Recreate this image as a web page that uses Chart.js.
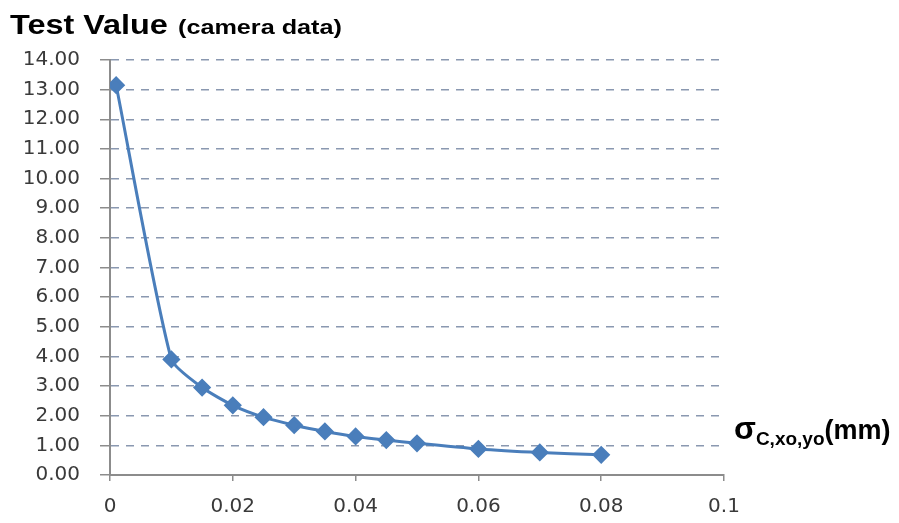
<!DOCTYPE html>
<html>
<head>
<meta charset="utf-8">
<script src="https://cdn.jsdelivr.net/npm/chart.js@4/dist/chart.umd.min.js"></script>
<style>
  html, body { margin: 0; padding: 0; background: #fff; }
  #wrap { position: relative; width: 899px; height: 523px; }
  #title {
    position: absolute; left: 10px; top: 10px; white-space: nowrap;
    font-family: "Liberation Sans", Arial, sans-serif; font-weight: bold; color: #000;
    transform: scaleX(1.2); transform-origin: left top;
  }
  #title .big { font-size: 27px; }
  #title .small { font-size: 21px; margin-left: 4px; }
  #xlabel {
    position: absolute; left: 734px; top: 410px; white-space: nowrap;
    font-family: "Liberation Sans", Arial, sans-serif; font-weight: bold; color: #000;
    font-size: 27px;
  }
  #xlabel .sig { font-size: 32px; }
  #xlabel sub { font-size: 19px; vertical-align: -6px; }
</style>
</head>
<body>
<div id="wrap">
  <canvas id="chart" width="899" height="523"></canvas>
  <div id="title"><span class="big">Test Value</span> <span class="small">(camera data)</span></div>
  <div id="xlabel"><span class="sig">σ</span><sub>C,xo,yo</sub>(mm)</div>
</div>
<script>
// ====== Data ======
const sigmaValues = [0.001, 0.01, 0.015, 0.02, 0.025, 0.03, 0.035, 0.04, 0.045, 0.05, 0.06, 0.07, 0.08];
const testValues = [13.15, 3.9, 2.95, 2.35, 1.95, 1.68, 1.47, 1.3, 1.18, 1.07, 0.88, 0.76, 0.68];
const xTicks = [0, 0.02, 0.04, 0.06, 0.08, 0.1];
const yTicks = [0, 1, 2, 3, 4, 5, 6, 7, 8, 9, 10, 11, 12, 13, 14];

const lineColor = '#4a7ebb';
const gridColor = '#8a98b0';
const axisColor = '#8c8c8c';

const points = sigmaValues.map((x, i) => ({ x: x, y: testValues[i] }));

const ctx = document.getElementById('chart').getContext('2d');
new Chart(ctx, {
    type: 'scatter',
    data: {
        datasets: [{
            data: points,
            showLine: true,
            borderColor: lineColor,
            backgroundColor: lineColor,
            borderWidth: 3,
            tension: 0.2,
            pointStyle: 'rectRot',
            pointRadius: 7,
            pointHoverRadius: 7
        }]
    },
    options: {
        responsive: false,
        animation: false,
        layout: { padding: { left: 0, right: 175, top: 60, bottom: 0 } },
        plugins: {
            legend: { display: false },
            tooltip: { enabled: false }
        },
        scales: {
            x: {
                type: 'linear',
                min: 0,
                max: 0.1,
                afterBuildTicks: scale => { scale.ticks = xTicks.map(v => ({ value: v })); },
                afterFit: scale => { scale.height = 48; },
                border: { color: axisColor, width: 2 },
                grid: { drawOnChartArea: false, color: axisColor, tickLength: 6, lineWidth: 1.5 },
                ticks: {
                    color: '#3a3a3a',
                    padding: 14,
                    font: { family: 'DejaVu Sans', size: 20 },
                    callback: v => String(v)
                }
            },
            y: {
                type: 'linear',
                min: 0,
                max: 14,
                afterBuildTicks: scale => { scale.ticks = yTicks.map(v => ({ value: v })); },
                afterFit: scale => { scale.width = 110; },
                border: { color: axisColor, width: 2, dash: [8, 7] },
                grid: {
                    color: gridColor,
                    lineWidth: 1.5,
                    tickLength: 10,
                    tickColor: axisColor,
                    tickBorderDash: [],
                    drawTicks: true
                },
                ticks: {
                    color: '#3a3a3a',
                    padding: 20,
                    font: { family: 'DejaVu Sans', size: 20 },
                    callback: v => v.toFixed(2)
                }
            }
        }
    }
});
</script>
</body>
</html>
